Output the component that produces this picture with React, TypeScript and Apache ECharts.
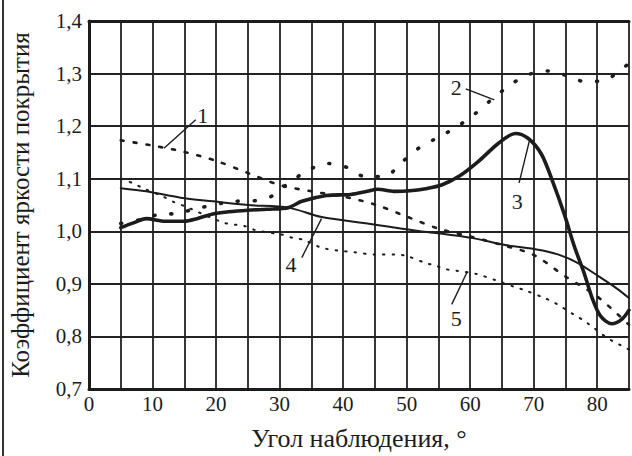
import React, { useEffect, useRef } from "react";
import * as echarts from "echarts";

// Curve data: [angle (deg), brightness coefficient]
const curve1: [number, number][] = [
  [5, 1.173], [10, 1.163], [15, 1.151], [20, 1.134], [25, 1.111], [30, 1.088],
  [35, 1.076], [40, 1.066], [45, 1.051], [50, 1.028], [55, 1.005], [60, 0.99],
  [65, 0.974], [70, 0.955], [75, 0.914], [80, 0.876], [85, 0.822],
];
const curve2: [number, number][] = [
  [5, 1.015], [8, 1.022], [11, 1.032], [14, 1.034], [16.5, 1.042], [23, 1.057],
  [26, 1.058], [29, 1.068], [31, 1.088], [34.5, 1.116], [37.5, 1.129], [40.5, 1.122],
  [43.5, 1.104], [46.5, 1.104], [49.3, 1.132], [52, 1.159], [55, 1.179], [57.8, 1.198],
  [60.7, 1.223], [63.5, 1.252], [66.6, 1.281], [69.4, 1.299], [72.2, 1.305], [75, 1.297],
  [78, 1.285], [81, 1.286], [84, 1.311], [85, 1.318],
];
const curve3: [number, number][] = [
  [5, 1.007], [7, 1.016], [9, 1.024], [12, 1.019], [15, 1.019], [17, 1.024],
  [19.5, 1.033], [22, 1.037], [25, 1.04], [28, 1.042], [31.4, 1.045], [33.5, 1.057],
  [37.4, 1.068], [41.2, 1.07], [43.8, 1.076], [45.4, 1.08], [48, 1.076], [50.5, 1.077],
  [53, 1.081], [55.5, 1.088], [58.3, 1.105], [61.4, 1.134], [64.5, 1.168], [67.1, 1.186],
  [69.1, 1.177], [71.2, 1.147], [73, 1.094], [74.8, 1.033], [76.4, 0.971], [77.9, 0.922],
  [79.2, 0.873], [80.5, 0.839], [82.3, 0.824], [83.9, 0.833], [85, 0.85],
];
const curve4: [number, number][] = [
  [5, 1.082], [9, 1.076], [14.4, 1.064], [19.5, 1.057], [25, 1.05], [31.4, 1.045],
  [36.6, 1.027], [44.3, 1.014], [52.1, 1.0], [55.2, 0.996], [60.4, 0.987], [65.5, 0.974],
  [70.7, 0.965], [73.8, 0.956], [76.9, 0.94], [80, 0.916], [83.1, 0.891], [85, 0.873],
];
const curve5: [number, number][] = [
  [5, 1.1], [7, 1.091], [8.7, 1.081], [11.5, 1.067], [13.3, 1.056], [15, 1.048],
  [21, 1.017], [22.6, 1.013], [24.2, 1.011], [26, 1.003], [27.5, 0.999], [29.1, 0.996],
  [30.6, 0.993], [32.2, 0.987], [33.7, 0.984], [36.8, 0.968], [41.8, 0.96], [44.9, 0.956],
  [48.2, 0.956], [50, 0.953], [52.9, 0.94], [54.4, 0.935], [56.2, 0.928], [57.8, 0.925],
  [60.9, 0.919], [64, 0.907], [67, 0.894], [68.6, 0.888], [71.7, 0.873], [73.3, 0.864],
  [76.4, 0.841], [77.9, 0.83], [79.5, 0.816], [81, 0.802], [82.6, 0.79], [84.4, 0.779],
  [85, 0.775],
];

// Curve number labels and their leader lines (data coordinates)
const curveNames = ["1", "2", "3", "4", "5"];
const labelAt: [number, number][] = [
  [17.9, 1.221], [57.8, 1.273], [67.4, 1.057], [31.8, 0.937], [57.8, 0.835],
];
const leaderFrom: [number, number][] = [
  [11.8, 1.158], [63.8, 1.25], [69.3, 1.171], [36.6, 1.024], [59.5, 0.922],
];
const leaderTo: [number, number][] = [
  [16.8, 1.212], [59.3, 1.271], [67.7, 1.092], [33.5, 0.95], [57.1, 0.861],
];

const xName = "Угол наблюдения, °";
const yName = "Коэффициент яркости покрытия";

const INK = "#1c1c1c";
const FONT = "Liberation Serif";

export default function App() {
  const ref = useRef<HTMLDivElement>(null);
  useEffect(() => {
    if (!ref.current) return;
    const chart = echarts.init(ref.current, null, { renderer: "svg" });

    const styles = [
      { width: 2.6, type: [3, 10] as any },
      { width: 3.6, type: [1, 16] as any },
      { width: 3.6, type: "solid" as any },
      { width: 2, type: "solid" as any },
      { width: 2, type: [1.5, 8] as any },
    ];
    const curves = [curve1, curve2, curve3, curve4, curve5];

    const series = curves.map((data, i) => ({
      type: "line",
      data,
      smooth: 0.3,
      showSymbol: false,
      symbol: "none",
      lineStyle: { color: INK, width: styles[i].width, type: styles[i].type, cap: "round" },
      z: 3,
      markLine: {
        silent: true,
        symbol: ["none", "none"],
        label: { show: false },
        lineStyle: { color: INK, width: 1.4, type: "solid" },
        data: [[{ coord: leaderFrom[i] }, { coord: leaderTo[i] }]],
      },
      markPoint: {
        silent: true,
        symbol: "circle",
        symbolSize: 0,
        label: {
          show: true,
          position: "inside",
          formatter: curveNames[i],
          color: INK,
          fontFamily: FONT,
          fontSize: 22,
        },
        data: [{ coord: labelAt[i] }],
      },
    }));

    chart.setOption({
      animation: false,
      backgroundColor: "#ffffff",
      grid: { left: 84, top: 21, right: 0, bottom: 56, containLabel: false },
      xAxis: [
        {
          type: "value",
          min: 0,
          max: 85,
          interval: 5,
          name: xName,
          nameLocation: "middle",
          nameGap: 36,
          nameTextStyle: { fontFamily: FONT, fontSize: 26, color: INK },
          axisLine: { show: true, lineStyle: { color: INK, width: 3 } },
          axisTick: { show: false },
          axisLabel: {
            margin: 4,
            fontFamily: FONT,
            fontSize: 21,
            color: INK,
            formatter: (v: number) => (v % 10 === 0 ? String(v) : ""),
          },
          splitLine: { show: true, lineStyle: { color: "#222", width: 1.8 } },
        },
        {
          type: "value",
          position: "top",
          min: 0,
          max: 85,
          interval: 5,
          axisLine: { show: true, lineStyle: { color: INK, width: 3 } },
          axisTick: { show: false },
          axisLabel: { show: false },
          splitLine: { show: false },
        },
      ],
      yAxis: {
        type: "value",
        min: 0.7,
        max: 1.4,
        interval: 0.1,
        name: yName,
        nameLocation: "middle",
        nameGap: 56,
        nameRotate: 90,
        nameTextStyle: { fontFamily: FONT, fontSize: 25, color: INK },
        axisLine: { show: true, lineStyle: { color: INK, width: 3 } },
        axisTick: { show: false },
        axisLabel: {
          margin: 7,
          fontFamily: FONT,
          fontSize: 21,
          color: INK,
          formatter: (v: number) => v.toFixed(1).replace(".", ","),
        },
        splitLine: { show: true, lineStyle: { color: "#222", width: 1.8 } },
      },
      graphic: [
        {
          type: "line",
          shape: { x1: 3, y1: 0, x2: 3, y2: 456 },
          style: { stroke: "#333", lineWidth: 2 },
        },
      ],
      series,
    });
    return () => chart.dispose();
  }, []);
  return (
    <div
      ref={ref}
      style={{ position: "fixed", left: 0, top: 0, width: 632, height: 456, background: "#fff" }}
    />
  );
}
